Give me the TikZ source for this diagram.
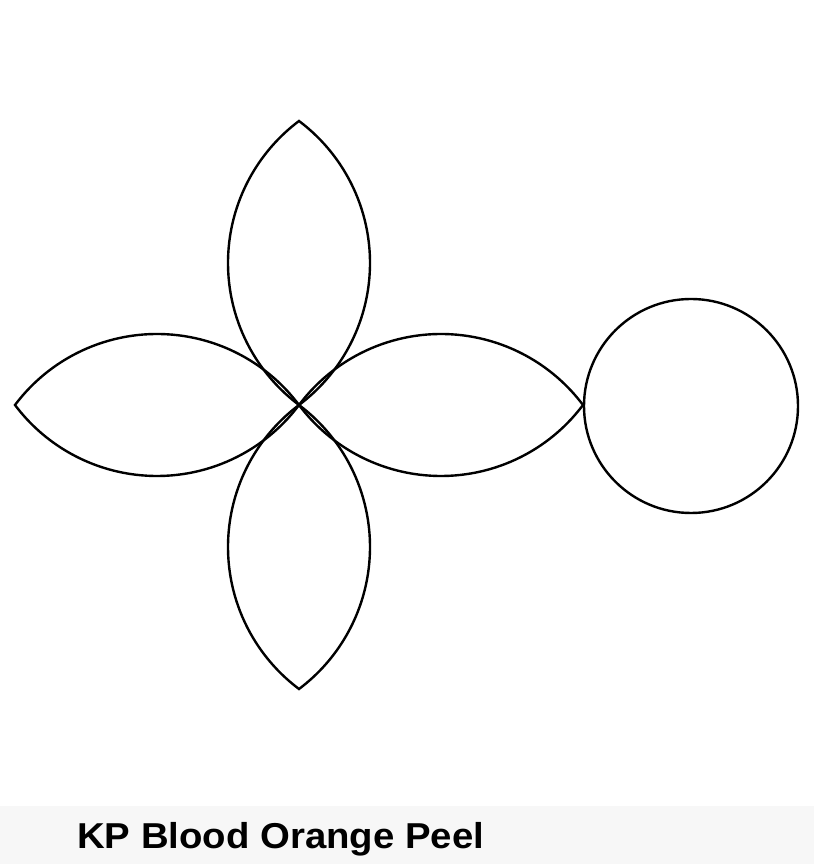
\documentclass[tikz,border=0pt]{standalone}
\usepackage{fontspec}
\setmainfont{Liberation Sans}
\begin{document}
\begin{tikzpicture}[x=1pt,y=1pt,
  outline/.style={draw=black,line width=2.4pt,line join=miter},
  petalshape/.style={outline}]
\useasboundingbox (0,0) rectangle (814,864);
\fill[white] (0,58) rectangle (814,864);
\fill[black!3] (0,0) rectangle (814,58);
\foreach \ang in {0,90,180,270}{
  \begin{scope}[shift={(299,459)},rotate=\ang]
    \draw[petalshape] (0,0) arc[start angle=143.13,end angle=36.87,radius=177.5pt]
      arc[start angle=-36.87,end angle=-143.13,radius=177.5pt] -- cycle;
  \end{scope}
}
\node[outline,circle,minimum size=214pt,inner sep=0pt] (disc) at (691,458) {};
\node[anchor=base west,inner sep=0pt,font=\fontsize{36}{40}\selectfont\bfseries] (title) at (77,15) {\scalebox{1.065}[1]{KP Blood Orange Peel}};
\end{tikzpicture}
\end{document}
